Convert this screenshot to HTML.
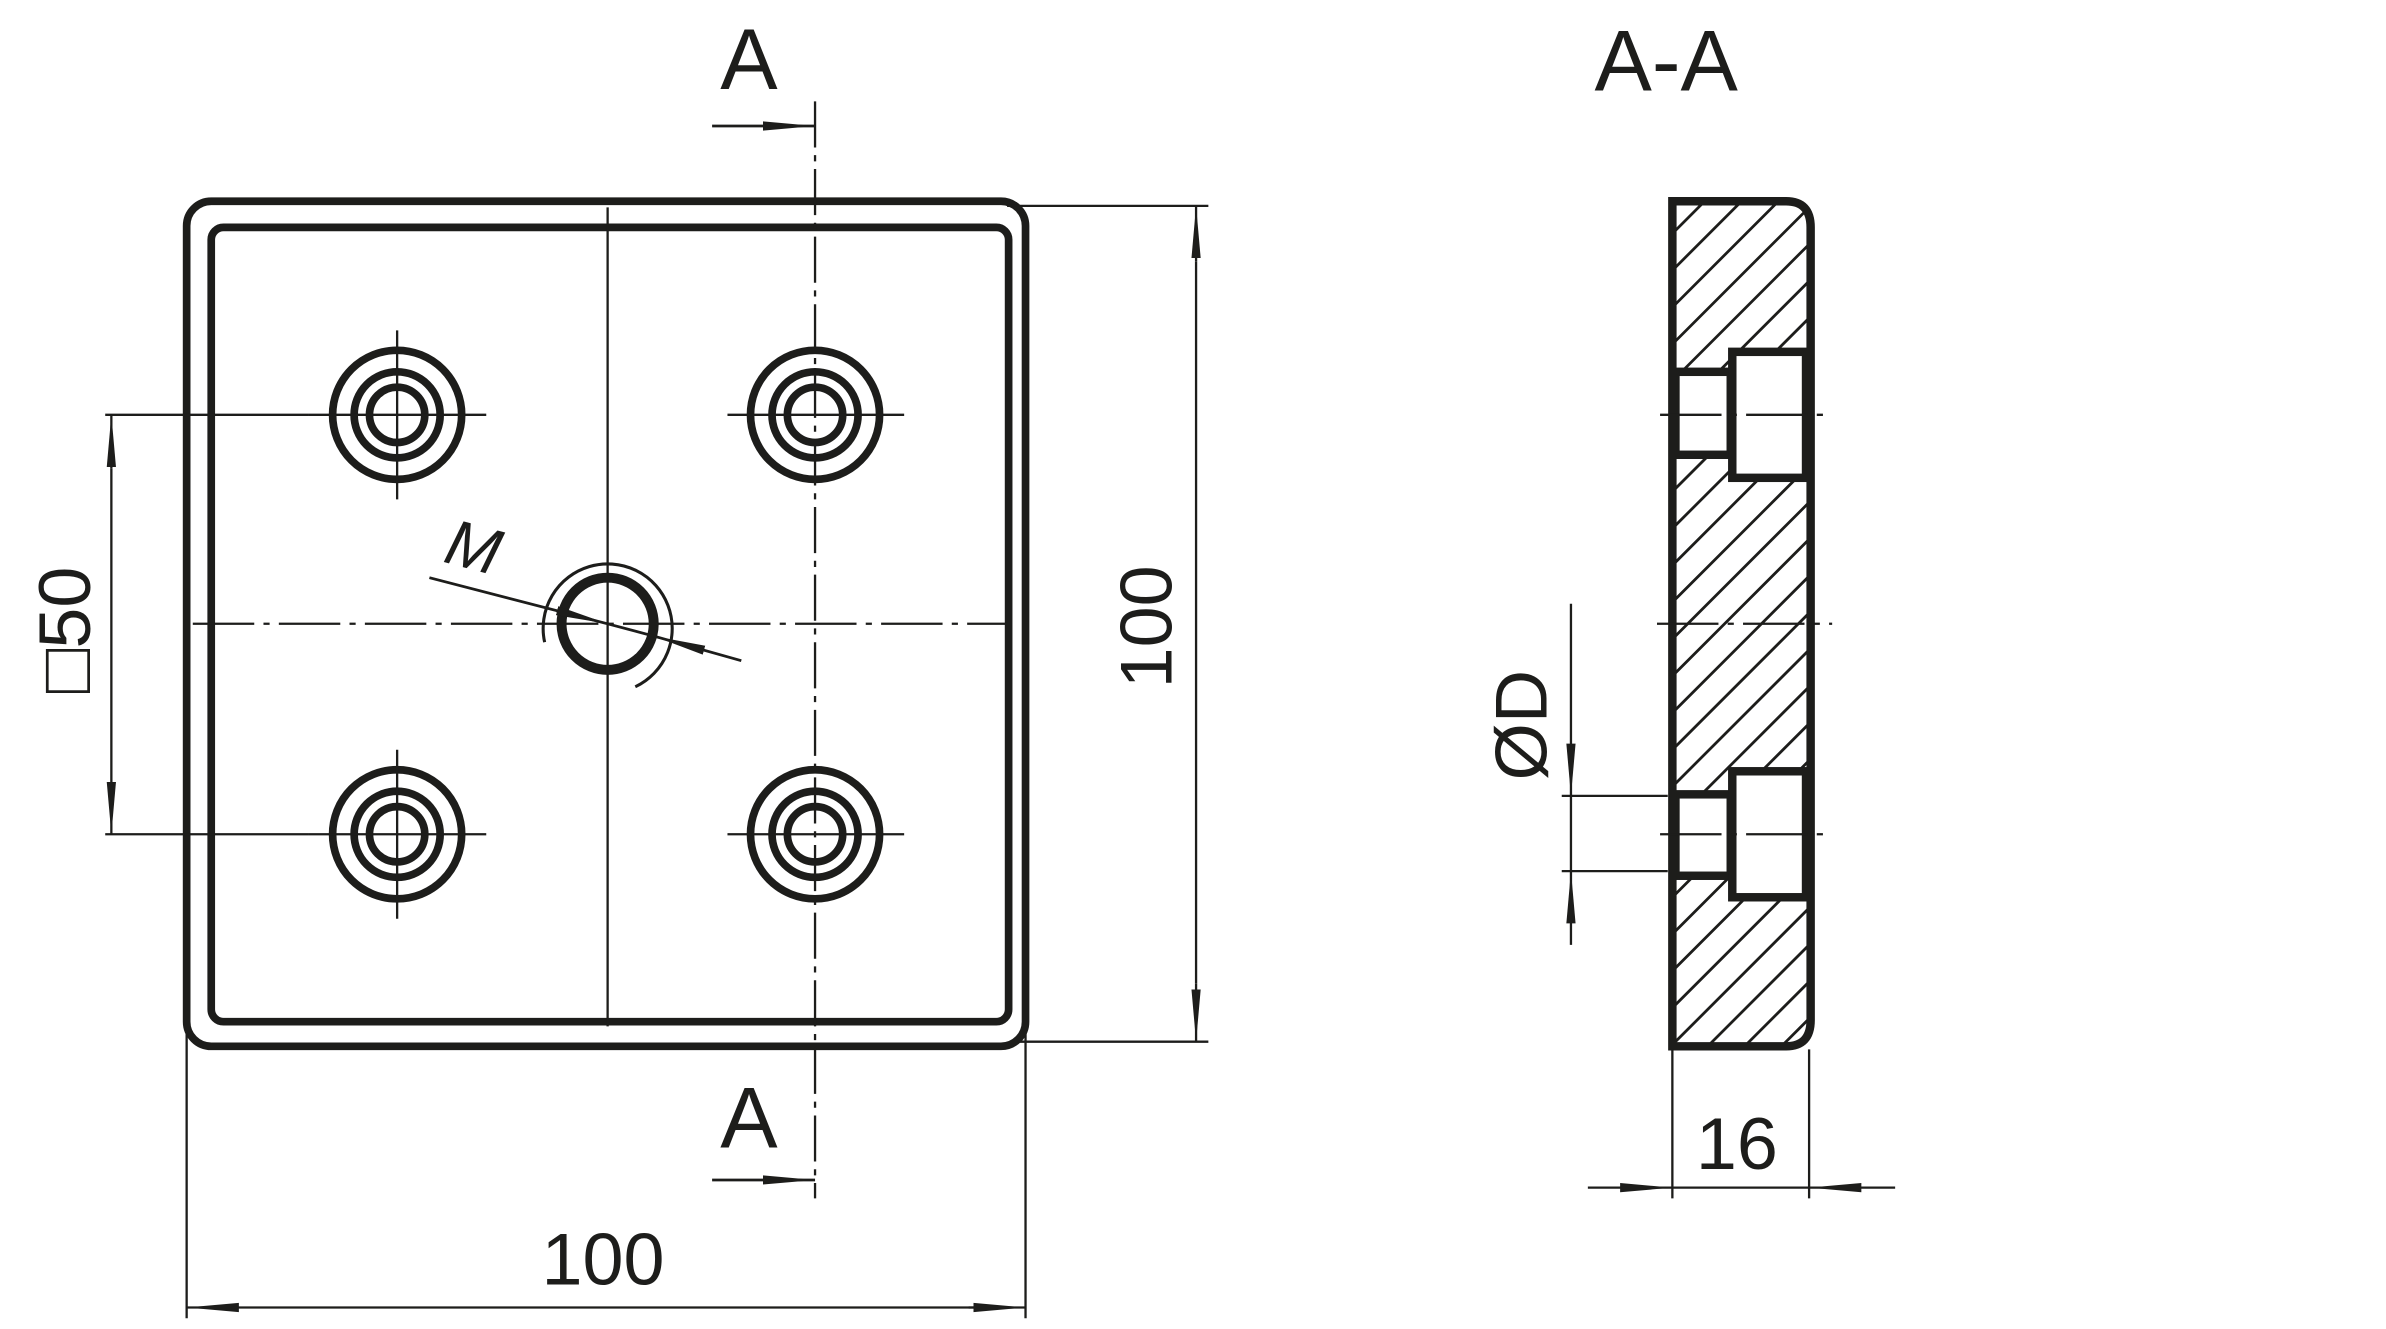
<!DOCTYPE html>
<html><head><meta charset="utf-8"><style>
html,body{margin:0;padding:0;background:#fff;}
svg{display:block;}
text{font-family:"Liberation Sans","DejaVu Sans",sans-serif;fill:#1d1d1b;}
</style></head><body>
<svg width="2386" height="1329" viewBox="0 0 1552 865" xmlns="http://www.w3.org/2000/svg">
<defs>
<marker id="ar2" markerWidth="34" markerHeight="10" refX="34" refY="5" orient="auto" markerUnits="userSpaceOnUse">
<path d="M0,2 L34,5 L0,8 z" fill="#1d1d1b"/></marker>
<clipPath id="sec"><rect x="1090" y="133" width="86" height="546"/></clipPath>
</defs>
<g stroke="#1d1d1b" fill="none">
<rect x="121" y="131" width="546" height="550" rx="16" stroke-width="5"/>
<rect x="137" y="148" width="519" height="517" rx="8" stroke-width="5"/>
<line x1="125" y1="406" x2="655" y2="406" stroke-width="1.5" stroke-dasharray="40,6,4,6"/>
<line x1="395" y1="135" x2="395" y2="668" stroke-width="1.5"/>
<line x1="530" y1="66" x2="530" y2="780" stroke-width="1.5" stroke-dasharray="30,5,4,5"/>
<g stroke-width="5">
<circle cx="258" cy="270" r="42"/><circle cx="258" cy="270" r="28"/><circle cx="258" cy="270" r="18"/>
<circle cx="530" cy="270" r="42"/><circle cx="530" cy="270" r="28"/><circle cx="530" cy="270" r="18"/>
<circle cx="258" cy="543" r="42"/><circle cx="258" cy="543" r="28"/><circle cx="258" cy="543" r="18"/>
<circle cx="530" cy="543" r="42"/><circle cx="530" cy="543" r="28"/><circle cx="530" cy="543" r="18"/>
</g>
<g stroke-width="1.5">
<line x1="200" y1="270" x2="316" y2="270"/><line x1="258" y1="215" x2="258" y2="325"/>
<line x1="473" y1="270" x2="588" y2="270"/>
<line x1="200" y1="543" x2="316" y2="543"/><line x1="258" y1="488" x2="258" y2="598"/>
<line x1="473" y1="543" x2="588" y2="543"/>
</g>
<circle cx="395" cy="406" r="30" stroke-width="6.5"/>
<path d="M354,418 A42,42 0 1 1 413,447" stroke-width="2"/>
<line x1="279" y1="376" x2="395" y2="406" stroke-width="1.8" marker-end="url(#ar2)"/>
<line x1="482" y1="430" x2="425" y2="414" stroke-width="1.8" marker-end="url(#ar2)"/>
<line x1="395" y1="406" x2="425" y2="414" stroke-width="1.8"/>
<g stroke-width="1.5">
<line x1="121" y1="672" x2="121" y2="858"/><line x1="667" y1="672" x2="667" y2="858"/>
<line x1="150" y1="851" x2="121" y2="851" marker-end="url(#ar2)"/>
<line x1="150" y1="851" x2="640" y2="851"/>
<line x1="630" y1="851" x2="667" y2="851" marker-end="url(#ar2)"/>
<line x1="655" y1="134" x2="786" y2="134"/><line x1="662" y1="678" x2="786" y2="678"/>
<line x1="778" y1="170" x2="778" y2="134" marker-end="url(#ar2)"/>
<line x1="778" y1="170" x2="778" y2="640"/>
<line x1="778" y1="640" x2="778" y2="678" marker-end="url(#ar2)"/>
<line x1="68" y1="270" x2="200" y2="270"/><line x1="68" y1="543" x2="200" y2="543"/>
<line x1="72" y1="305" x2="72" y2="270" marker-end="url(#ar2)"/>
<line x1="72" y1="305" x2="72" y2="510"/>
<line x1="72" y1="510" x2="72" y2="543" marker-end="url(#ar2)"/>
<line x1="463" y1="82" x2="530" y2="82" marker-end="url(#ar2)" stroke-width="1.8"/>
<line x1="463" y1="768" x2="530" y2="768" marker-end="url(#ar2)" stroke-width="1.8"/>
</g>
<g clip-path="url(#sec)" stroke-width="1.8">
<path d="M1080,160 L1200,40 M1080,184 L1200,64 M1080,208 L1200,88 M1080,232 L1200,112 M1080,256 L1200,136 M1080,280 L1200,160 M1080,304 L1200,184 M1080,328 L1200,208 M1080,352 L1200,232 M1080,376 L1200,256 M1080,400 L1200,280 M1080,424 L1200,304 M1080,448 L1200,328 M1080,472 L1200,352 M1080,496 L1200,376 M1080,520 L1200,400 M1080,544 L1200,424 M1080,568 L1200,448 M1080,592 L1200,472 M1080,616 L1200,496 M1080,640 L1200,520 M1080,664 L1200,544 M1080,688 L1200,568 M1080,712 L1200,592 M1080,736 L1200,616 M1080,760 L1200,640 M1080,784 L1200,664 M1080,808 L1200,688"/>
</g>
<g stroke-width="5.5">
<rect x="1090" y="242" width="36" height="54" fill="#fff"/>
<rect x="1127" y="229" width="48" height="82" fill="#fff"/>
<rect x="1090" y="517" width="36" height="53" fill="#fff"/>
<rect x="1127" y="502" width="48" height="82" fill="#fff"/>
<path d="M1088,131 L1162,131 Q1178,131 1178,148 L1178,664 Q1178,681 1162,681 L1088,681 Z" fill="none"/>
</g>
<g stroke-width="1.5">
<line x1="1080" y1="270" x2="1186" y2="270" stroke-dasharray="40,6,4,6"/>
<line x1="1078" y1="406" x2="1192" y2="406" stroke-dasharray="40,6,4,6"/>
<line x1="1080" y1="543" x2="1186" y2="543" stroke-dasharray="40,6,4,6"/>
<line x1="1016" y1="518" x2="1085" y2="518"/><line x1="1016" y1="567" x2="1085" y2="567"/>
<line x1="1022" y1="393" x2="1022" y2="518" marker-end="url(#ar2)"/>
<line x1="1022" y1="615" x2="1022" y2="567" marker-end="url(#ar2)"/>
<line x1="1022" y1="518" x2="1022" y2="567"/>
<line x1="1088" y1="683" x2="1088" y2="780"/><line x1="1177" y1="683" x2="1177" y2="780"/>
<line x1="1033" y1="773" x2="1088" y2="773" marker-end="url(#ar2)"/>
<line x1="1233" y1="773" x2="1177" y2="773" marker-end="url(#ar2)"/>
<line x1="1088" y1="773" x2="1177" y2="773"/>
</g>
</g>
<text x="487" y="58" font-size="56" text-anchor="middle">A</text>
<text x="487" y="747" font-size="56" text-anchor="middle">A</text>
<text x="1084" y="59" font-size="56" text-anchor="middle">A-A</text>
<text x="392" y="836" font-size="48" text-anchor="middle">100</text>
<text x="1130" y="761" font-size="48" text-anchor="middle">16</text>
<text transform="translate(762,408) rotate(-90)" font-size="48" text-anchor="middle">100</text>
<text transform="translate(58,410) rotate(-90)" font-size="48" text-anchor="middle">□50</text>
<text transform="translate(1006,472) rotate(-90)" font-size="48" text-anchor="middle">ØD</text>
<text transform="translate(304,370) rotate(15)" font-size="42" font-style="italic" text-anchor="middle">M</text>
</svg>
</body></html>
